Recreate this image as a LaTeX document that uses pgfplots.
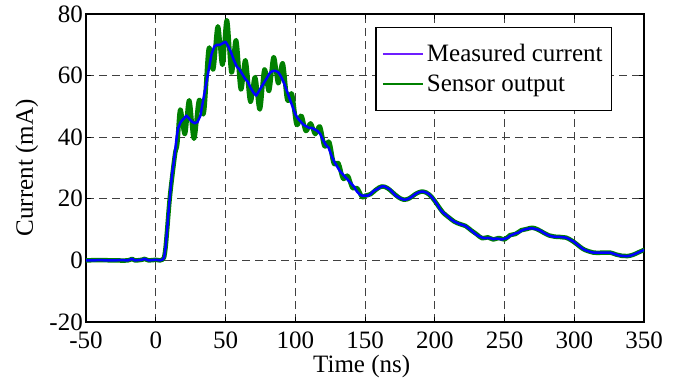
\documentclass[border=0pt]{standalone}
\usepackage{pgfplots}
\pgfplotsset{compat=1.18}
\usepackage{fontspec}
\setmainfont{Liberation Serif}
\definecolor{legblue}{RGB}{110,30,255}
\definecolor{sgreen}{RGB}{0,128,0}
\pgfplotstableread{
x y
-50 0
-45 0
-40 0.1
-35 0
-30 0
-25 0.1
-20 0
-17 0.5
-15 0
-10 0.2
-8 0.5
-5 0
0 0.2
3 0
5 0.3
6 1
7 4
8 9
9 15
10 20
11 25
12 29
13 32
14 36
15 40
16 43
18 45
20 46
22 47
24 46
26 45
28 44.5
30 45
32 47
34 52
36 57
38 62
40 67
42 69.5
44 70
46 70
48 70.5
50 71
52 69.5
54 67.5
56 65
58 63
60 62
62 60.5
64 59
66 58
68 56
70 54.5
72 53.5
74 55
76 56.5
78 58
80 59.5
82 61
84 61.5
86 61.5
88 61
90 59.5
92 57.5
94 55
96 52.5
98 50
100 47.5
102 46
104 45
106 44
108 43.5
110 43
112 43
114 42.5
116 42
118 41
120 39
122 37.5
124 36.5
126 34
128 32
130 30.5
132 29
134 28
136 27
138 26
140 25
142 24
144 22.5
146 21.5
148 21
150 21
152 21
154 21.5
156 22.5
158 23
160 23.5
162 24
164 24
166 23.5
168 23
170 22
172 21
174 20.5
176 20
178 19.7
180 19.8
182 20.2
184 20.8
186 21.5
188 22
190 22.3
192 22.3
194 22
196 21.5
198 20.5
200 19.3
202 18
204 16.5
206 15.5
208 14.8
210 14
212 13.2
214 12.6
216 12.2
218 11.8
220 11.5
222 11.2
224 10.5
226 9.8
228 9
230 8.3
232 7.8
234 7.4
236 7.2
238 7.3
240 7.2
242 6.9
244 7.1
246 7
248 6.8
250 7
252 7.3
254 8
256 8.4
258 8.8
260 9
262 9.6
264 10
266 10.2
268 10.4
270 10.4
272 10.2
274 10
276 9.6
278 9
280 8.5
282 8.1
284 7.8
286 7.7
288 7.6
290 7.6
292 7.5
294 7.4
296 7
298 6.5
300 6
302 5.2
304 4.5
306 3.8
308 3.3
310 3
312 2.7
314 2.5
316 2.5
320 2.5
324 2.5
326 2.5
328 2.2
330 1.9
332 1.6
334 1.5
336 1.4
338 1.4
340 1.5
342 1.8
344 2.2
346 2.6
348 3
350 3.4
}\measured
\pgfplotstableread{
x y
-50 0
-40 0.1
-30 0
-20 0
-17 0.5
-15 0
-10 0.2
-8 0.5
-5 0
0 0.2
3 0
5 0.3
6 1
7 4
8 9
10 20
12 28
14 35
15.5 38
17.6 49
20.9 41
24.0 52
27.4 39.5
31 52
34.5 48
38 68.8
41.2 62
44.5 76
47.8 63.5
51 78
54.3 61
57.6 71.5
61 55.5
64.3 65
67.8 51.5
71.2 59.5
74.6 49
77.9 62
81.2 55
84.5 66
87.8 57.5
91 64
94.3 52
97.6 54
101 44
104.3 47
107.6 42
111 44.5
114.3 41
117.6 43.5
121 37
124.3 38.5
127.6 31.5
131 31.5
134.3 26.5
137.6 27.5
141 23.5
144.3 23.5
148 20.5
150 21
154 21.5
158 23
162 24
166 23.5
170 22
174 20.5
178 19.7
182 20.2
186 21.5
190 22.3
194 22
198 20.5
202 18
206 15.5
210 14
214 12.6
218 11.8
222 11.2
226 9.8
230 8.5
234 7.2
238 7.5
242 6.8
246 7.3
250 6.8
254 8.2
258 8.6
262 9.8
266 10.2
270 10.6
274 10
278 9
282 8.1
286 7.7
290 7.6
294 7.4
298 6.5
302 5.2
306 3.8
310 3
314 2.5
320 2.5
326 2.5
330 1.9
334 1.5
338 1.4
342 1.8
346 2.6
350 3.4
}\sensor
\begin{document}
\begin{tikzpicture}
\begin{axis}[
  name=ax,
  scale only axis,
  width=558pt, height=308pt,
  xmin=-50, xmax=350, ymin=-20, ymax=80,
  xtick={-50,0,...,350}, ytick={-20,0,...,80},
  xtick pos=both, ytick pos=both,
  tick align=inside,
  major tick length=5pt,
  every tick/.style={black, line width=0.8pt},
  axis line style={line width=1.2pt},
  grid=major,
  major grid style={black!75, line width=0.9pt, dash pattern=on 8pt off 5pt},
  /pgf/number format/assume math mode=true,
  tick label style={font=\fontsize{25}{30}\selectfont, inner sep=2pt},
  xticklabel style={yshift=-7.5pt},
  yticklabel style={xshift=-1pt},
  label style={font=\fontsize{25}{30}\selectfont},
  xlabel={Time (ns)},
  ylabel={Current (mA)},
  xlabel style={at={(axis description cs:0.494,-0.143)}, anchor=center},
  ylabel style={at={(axis description cs:-0.106,0.5)}, anchor=center},
  legend cell align=left,
  legend image code/.code={\path (0pt,0pt) -- (40pt,0pt);\draw[#1] (3pt,0pt) -- (36pt,0pt);},
  legend style={at={(axis description cs:0.943,0.958)}, anchor=north east,
    draw=black, line width=1.2pt, font=\fontsize{25}{30}\selectfont,
    inner xsep=6pt, inner ysep=14pt, row sep=6pt,
    nodes={inner sep=3pt}},
]
\addplot[sgreen, line width=4.5pt, smooth, tension=0.6, line join=round, line cap=round, forget plot] table[x=x,y=y] {\sensor};
\addplot[blue, line width=2.5pt, line join=round, forget plot] table[x=x,y=y] {\measured};
\addlegendimage{legblue, line width=2pt}
\addlegendentry{Measured current}
\addlegendimage{sgreen, line width=2pt}
\addlegendentry{Sensor output}
\end{axis}
\path ([shift={(-86pt,-61pt)}]ax.south west) rectangle ([shift={(34pt,14pt)}]ax.north east);
\end{tikzpicture}
\end{document}
